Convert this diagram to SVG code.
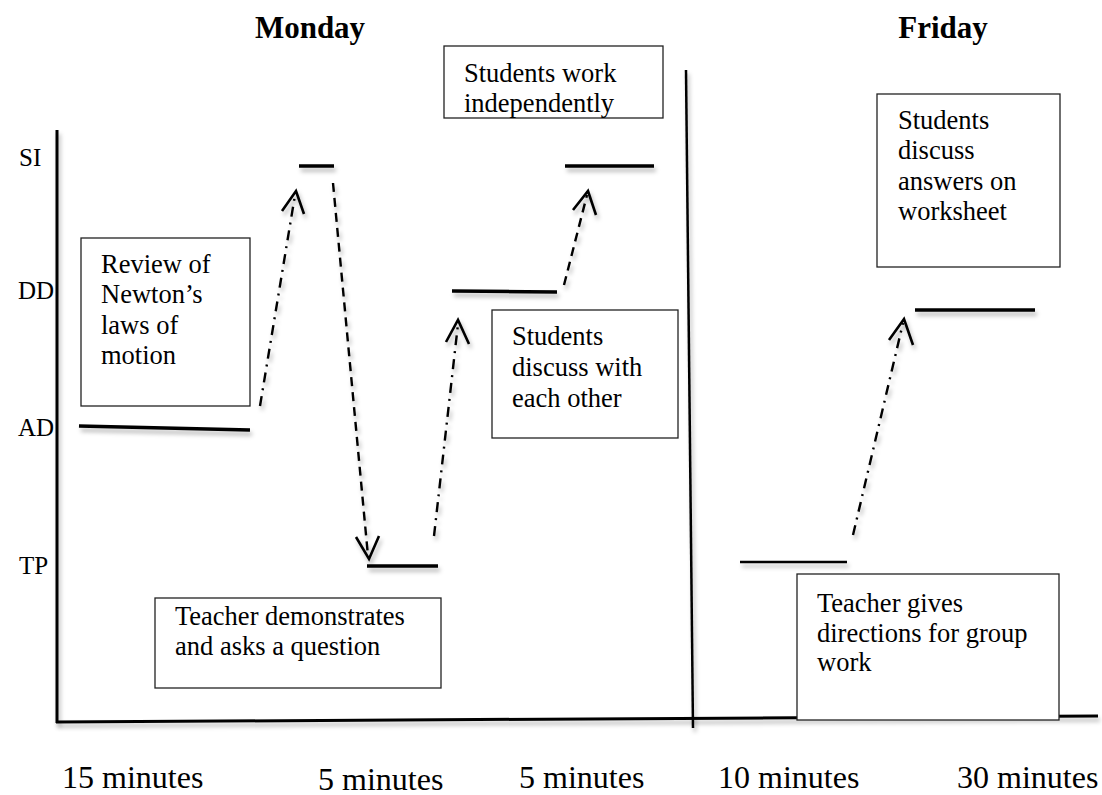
<svg xmlns="http://www.w3.org/2000/svg" width="1102" height="795" viewBox="0 0 1102 795">
  <defs>
    <!-- user-space region so perfectly horizontal/vertical lines keep their shadow -->
    <filter id="shadow" filterUnits="userSpaceOnUse" x="0" y="0" width="1102" height="795">
      <feDropShadow dx="2" dy="4" stdDeviation="2.2" flood-color="#000" flood-opacity="0.28"/>
    </filter>
    <style>
      text { font-family: "Liberation Serif", "Times New Roman", serif; fill: #000; }
      .title { font-size: 31px; font-weight: bold; }
      .axis-label { font-size: 25px; }
      .box-text { font-size: 26.5px; }
      .time { font-size: 32px; }
      .box { fill: #fff; stroke: #222; stroke-width: 1.3; }
      .axis { stroke: #000; stroke-width: 3; fill: none; filter: url(#shadow); }
      .level { stroke: #000; stroke-width: 3.5; fill: none; filter: url(#shadow); }
      .arrow { stroke: #000; stroke-width: 2.4; fill: none; filter: url(#shadow); }
      .dashed { stroke-dasharray: 9 6; }
      .dashdot { stroke-dasharray: 10 6 2 6; }
      .head { stroke: #000; stroke-width: 2.6; fill: none; stroke-linejoin: miter; filter: url(#shadow); }
    </style>
  </defs>

  <g font-family="Liberation Serif, Times New Roman, serif">
    <!-- day titles -->
    <text class="title" x="310" y="38" text-anchor="middle">Monday</text>
    <text class="title" x="943" y="38" text-anchor="middle">Friday</text>

    <!-- axes and day divider -->
    <g id="axes">
      <line class="axis" x1="57" y1="130" x2="57" y2="723"/>
      <line class="axis" x1="56" y1="722" x2="1098" y2="716"/>
      <line class="axis" x1="686" y1="70" x2="693" y2="728" style="stroke-width:2.5"/>
    </g>

    <!-- engagement levels -->
    <g id="level-labels">
      <text class="axis-label" x="19" y="166">SI</text>
      <text class="axis-label" x="18" y="299">DD</text>
      <text class="axis-label" x="18" y="436">AD</text>
      <text class="axis-label" x="19" y="574">TP</text>
    </g>

    <!-- activity boxes -->
    <g id="box-review">
      <rect class="box" x="81" y="238" width="169" height="168"/>
      <text class="box-text" x="101" y="273">Review of</text>
      <text class="box-text" x="101" y="303">Newton’s</text>
      <text class="box-text" x="101" y="334">laws of</text>
      <text class="box-text" x="101" y="364">motion</text>
    </g>

    <g id="box-demonstrate">
      <rect class="box" x="155" y="598" width="286" height="90"/>
      <text class="box-text" x="175" y="625">Teacher demonstrates</text>
      <text class="box-text" x="175" y="655">and asks a question</text>
    </g>

    <g id="box-independent">
      <rect class="box" x="444" y="46" width="219" height="72"/>
      <text class="box-text" x="464" y="82">Students work</text>
      <text class="box-text" x="464" y="112">independently</text>
    </g>

    <g id="box-discuss">
      <rect class="box" x="492" y="310" width="186" height="128"/>
      <text class="box-text" x="512" y="345">Students</text>
      <text class="box-text" x="512" y="376">discuss with</text>
      <text class="box-text" x="512" y="407">each other</text>
    </g>

    <g id="box-worksheet">
      <rect class="box" x="877" y="94" width="183" height="173"/>
      <text class="box-text" x="898" y="129">Students</text>
      <text class="box-text" x="898" y="159">discuss</text>
      <text class="box-text" x="898" y="190">answers on</text>
      <text class="box-text" x="898" y="220">worksheet</text>
    </g>

    <g id="box-directions">
      <rect class="box" x="797" y="574" width="262" height="146"/>
      <text class="box-text" x="817" y="612">Teacher gives</text>
      <text class="box-text" x="817" y="642">directions for group</text>
      <text class="box-text" x="817" y="671">work</text>
    </g>

    <!-- level segments -->
    <g id="segments">
      <line class="level" x1="79" y1="426" x2="250" y2="430"/>
      <line class="level" x1="299" y1="166" x2="334" y2="166"/>
      <line class="level" x1="367" y1="566" x2="438" y2="566"/>
      <line class="level" x1="452" y1="291" x2="557" y2="292"/>
      <line class="level" x1="565" y1="166" x2="654" y2="166"/>
      <line class="level" x1="740" y1="562" x2="847" y2="562" style="stroke-width:2.5"/>
      <line class="level" x1="915" y1="310" x2="1035" y2="310"/>
    </g>

    <!-- transitions between levels -->
    <g id="connectors">
      <line class="arrow dashdot" x1="260" y1="406" x2="295" y2="195"/>
      <polyline class="head" points="282,211 296,191 304,214"/>

      <line class="arrow dashed" x1="333" y1="183" x2="368" y2="556"/>
      <polyline class="head" points="356,537 369,559 379,536"/>

      <line class="arrow dashdot" x1="434" y1="536" x2="458" y2="324"/>
      <polyline class="head" points="446,342 458,320 469,344"/>

      <line class="arrow dashed" x1="564" y1="285" x2="587" y2="195"/>
      <polyline class="head" points="573,210 588,191 596,215"/>

      <line class="arrow dashdot" x1="853" y1="535" x2="903" y2="323"/>
      <polyline class="head" points="889,340 904,319 913,345"/>
    </g>

    <!-- durations -->
    <g id="durations">
      <text class="time" x="62" y="788">15 minutes</text>
      <text class="time" x="318" y="790">5 minutes</text>
      <text class="time" x="519" y="788">5 minutes</text>
      <text class="time" x="718" y="788">10 minutes</text>
      <text class="time" x="957" y="788">30 minutes</text>
    </g>
  </g>
</svg>
